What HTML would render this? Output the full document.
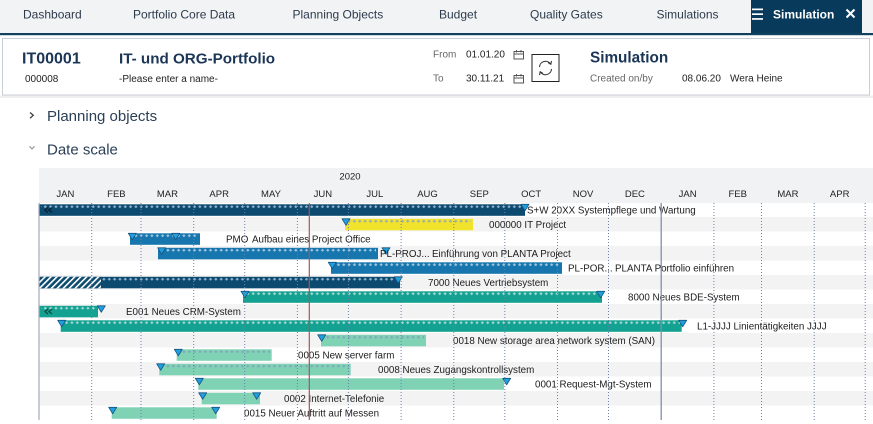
<!DOCTYPE html>
<html><head><meta charset="utf-8"><style>
html,body{margin:0;padding:0;background:#fff;}
body{width:873px;height:424px;overflow:hidden;position:relative;}
svg{position:absolute;left:0;top:0;}
</style></head><body>
<svg width="873" height="424" viewBox="0 0 873 424" font-family="'Liberation Sans', Arial, sans-serif">
<defs>
<pattern id="dN" patternUnits="userSpaceOnUse" x="0" y="202.5" width="5.33" height="14.5"><path d="M2.66,2.6 L4.3,4.2 L2.66,5.8 L1.02,4.2Z" fill="#8db2cf"/></pattern>
<pattern id="dB" patternUnits="userSpaceOnUse" x="0" y="202.5" width="5.33" height="14.5"><path d="M2.66,2.6 L4.3,4.2 L2.66,5.8 L1.02,4.2Z" fill="#9cc6e0"/></pattern>
<pattern id="dT" patternUnits="userSpaceOnUse" x="0" y="202.5" width="5.33" height="14.5"><path d="M2.66,2.6 L4.3,4.2 L2.66,5.8 L1.02,4.2Z" fill="#a3d6d2"/></pattern>
<pattern id="dY" patternUnits="userSpaceOnUse" x="0" y="202.5" width="5.33" height="14.5"><path d="M2.66,2.6 L4.3,4.2 L2.66,5.8 L1.02,4.2Z" fill="#9aabb0"/></pattern>
<pattern id="dG" patternUnits="userSpaceOnUse" x="0" y="202.5" width="5.33" height="14.5"><path d="M2.66,2.6 L4.3,4.2 L2.66,5.8 L1.02,4.2Z" fill="#7ea9b9"/></pattern>
<pattern id="hatch" patternUnits="userSpaceOnUse" width="4.2" height="4.2" patternTransform="rotate(45)"><rect width="4.2" height="4.2" fill="#0d4a6f"/><rect width="1.6" height="4.2" fill="#ffffff"/></pattern>
</defs>

<!-- NAV -->
<rect x="0" y="0" width="873" height="34" fill="#f1f3f5"/>
<rect x="751" y="0" width="111" height="34" fill="#083a5c"/>
<rect x="0" y="33" width="873" height="2.2" fill="#12405f"/>
<g font-size="12" fill="#2c3b4c">
<text x="23" y="18.5">Dashboard</text>
<text x="133" y="18.5">Portfolio Core Data</text>
<text x="292.5" y="18.5">Planning Objects</text>
<text x="439" y="18.5">Budget</text>
<text x="530" y="18.5">Quality Gates</text>
<text x="656.5" y="18.5">Simulations</text>
</g>
<g fill="#fff"><rect x="752" y="8.5" width="11" height="1.7"/><rect x="752" y="13.3" width="11" height="1.7"/><rect x="752" y="18.1" width="11" height="1.7"/></g>
<text x="773" y="18.5" font-size="12" font-weight="bold" fill="#fff">Simulation</text>
<path d="M846.5,9.5 L854.5,17.5 M854.5,9.5 L846.5,17.5" stroke="#fff" stroke-width="2"/>

<!-- HEADER BOX -->
<rect x="2.5" y="38.5" width="867" height="56.5" fill="#fff" stroke="#c9cdd4"/>
<rect x="0" y="95.5" width="873" height="2.5" fill="#eef0f2"/>
<text x="22" y="63.3" font-size="16" font-weight="bold" fill="#1b3556">IT00001</text>
<text x="25" y="82" font-size="10" fill="#222">000008</text>
<text x="119" y="63.3" font-size="15.2" font-weight="bold" fill="#1b3556">IT- und ORG-Portfolio</text>
<text x="119" y="82" font-size="10" fill="#222">-Please enter a name-</text>
<text x="433" y="57.4" font-size="10" fill="#666">From</text>
<text x="433" y="81.6" font-size="10" fill="#666">To</text>
<text x="466" y="57.4" font-size="10" fill="#222">01.01.20</text>
<text x="466" y="81.6" font-size="10" fill="#222">30.11.21</text>
<g fill="none" stroke="#555" stroke-width="1">
<rect x="514" y="51.5" width="9.5" height="7.5"/><path d="M514,54 H523.5 M516.5,50 V52.5 M521,50 V52.5"/>
<rect x="514" y="75.5" width="9.5" height="7.5"/><path d="M514,78 H523.5 M516.5,74 V76.5 M521,74 V76.5"/>
</g>
<rect x="532" y="54.5" width="27" height="27" fill="#fff" stroke="#222"/>
<g fill="none" stroke="#333" stroke-width="1.1">
<path d="M539.5,67 A6,6 0 0 1 550.5,64"/>
<path d="M551.5,69 A6,6 0 0 1 540.5,72"/>
<path d="M548,62.5 L550.8,64.2 L551.5,61"/>
<path d="M543,73.5 L540.2,71.8 L539.5,75"/>
</g>
<text x="590" y="62.7" font-size="15.3" font-weight="bold" fill="#1b3556">Simulation</text>
<text x="590" y="81.6" font-size="10" fill="#666">Created on/by</text>
<text x="682" y="81.6" font-size="10" fill="#222">08.06.20</text>
<text x="730" y="81.6" font-size="10" fill="#222">Wera Heine</text>

<!-- SECTIONS -->
<path d="M30,112.5 L33.3,115.3 L30,118.2" fill="none" stroke="#444" stroke-width="1.3"/>
<text x="47" y="121" font-size="15" fill="#2b4057">Planning objects</text>
<path d="M29.5,146.2 L32,149 L34.5,146.2" fill="none" stroke="#999" stroke-width="1.2"/>
<text x="47" y="154.3" font-size="15" fill="#2b4057">Date scale</text>

<!-- CHART HEADER -->
<rect x="39" y="168" width="834" height="35" fill="#f1f2f3"/>
<text x="350" y="179.5" font-size="9.5" fill="#222" text-anchor="middle">2020</text>
<g font-size="9.5" fill="#222" text-anchor="middle">
<text x="65.4" y="197">JAN</text><text x="116.4" y="197">FEB</text><text x="167.4" y="197">MAR</text><text x="219.2" y="197">APR</text>
<text x="271" y="197">MAY</text><text x="322.9" y="197">JUN</text><text x="374.8" y="197">JUL</text><text x="427.5" y="197">AUG</text>
<text x="479.3" y="197">SEP</text><text x="531.2" y="197">OCT</text><text x="583" y="197">NOV</text><text x="634.9" y="197">DEC</text>
<text x="687.6" y="197">JAN</text><text x="737.7" y="197">FEB</text><text x="787.9" y="197">MAR</text><text x="839.7" y="197">APR</text>
</g>

<!-- STRIPES -->
<g fill="#f3f3f3">
<rect x="39" y="217" width="834" height="14.5"/>
<rect x="39" y="246" width="834" height="14.5"/>
<rect x="39" y="275" width="834" height="14.5"/>
<rect x="39" y="304" width="834" height="14.5"/>
<rect x="39" y="333" width="834" height="14.5"/>
<rect x="39" y="362" width="834" height="14.5"/>
<rect x="39" y="391" width="834" height="14.5"/>
</g>

<!-- BARS -->
<rect x="39" y="204.3" width="486" height="11.5" fill="#0d4a6f"/>
<rect x="41" y="205" width="482" height="4.5" fill="url(#dN)"/>
<path d="M48,207.5 L45,210 L48,212.5 M52,207.5 L49,210 L52,212.5" fill="none" stroke="#062338" stroke-width="1.4"/>
<rect x="345" y="218.8" width="128" height="11.5" fill="#f1e22b"/>
<rect x="347" y="219.5" width="124" height="4.5" fill="url(#dY)"/>
<rect x="130" y="233.3" width="70" height="11.5" fill="#1776ad"/>
<rect x="132" y="234" width="66" height="4.5" fill="url(#dB)"/>
<rect x="158" y="247.8" width="220" height="11.5" fill="#1776ad"/>
<rect x="160" y="248.5" width="216" height="4.5" fill="url(#dB)"/>
<rect x="331" y="262.3" width="231" height="11.5" fill="#1776ad"/>
<rect x="333" y="263" width="227" height="4.5" fill="url(#dB)"/>
<rect x="39" y="276.8" width="361" height="11.5" fill="#0d4a6f"/>
<rect x="39" y="276.8" width="62" height="11.5" fill="url(#hatch)"/>
<rect x="101" y="277.5" width="297" height="4.5" fill="url(#dN)"/>
<rect x="243" y="291.3" width="359" height="11.5" fill="#13a291"/>
<rect x="245" y="292" width="355" height="4.5" fill="url(#dT)"/>
<rect x="39" y="305.8" width="59" height="11.5" fill="#13a291"/>
<rect x="41" y="306.5" width="55" height="4.5" fill="url(#dT)"/>
<path d="M48,309 L45,311.5 L48,314 M52,309 L49,311.5 L52,314" fill="none" stroke="#0a4f46" stroke-width="1.4"/>
<rect x="60.7" y="320.3" width="621" height="11.5" fill="#13a291"/>
<rect x="62" y="321" width="618" height="4.5" fill="url(#dT)"/>
<rect x="321" y="334.8" width="105" height="11.5" fill="#80d2b5"/>
<rect x="323" y="335.5" width="101" height="4.5" fill="url(#dG)"/>
<rect x="176.7" y="349.3" width="95" height="11.5" fill="#80d2b5"/>
<rect x="178" y="350" width="92" height="4.5" fill="url(#dG)"/>
<rect x="159.3" y="363.8" width="191.4" height="11.5" fill="#80d2b5"/>
<rect x="161" y="364.5" width="188" height="4.5" fill="url(#dG)"/>
<rect x="198.3" y="378.3" width="305.7" height="11.5" fill="#80d2b5"/>
<rect x="201.7" y="392.8" width="58.3" height="11.5" fill="#80d2b5"/>
<rect x="111.7" y="407.3" width="105" height="11.5" fill="#80d2b5"/>

<!-- TRIANGLES -->
<g fill="#1f9fe0" stroke="#15527c" stroke-width="0.8" stroke-linejoin="round">
<path d="M521,204.3 H529 L525,210.8Z"/>
<path d="M342,218.8 H350 L346,225.3Z"/>
<path d="M128.3,233.3 H136.3 L132.3,239.8Z"/>
<path d="M171.7,233.3 H179.7 L175.7,239.8Z"/>
<path d="M157.7,247.8 H165.7 L161.7,254.3Z"/>
<path d="M382,247.8 H390 L386,254.3Z"/>
<path d="M328.3,262.3 H336.3 L332.3,268.8Z"/>
<path d="M394.3,276.8 H402.3 L398.3,283.3Z"/>
<path d="M241,291.3 H249 L245,297.8Z"/>
<path d="M596.7,291.3 H604.7 L600.7,297.8Z"/>
<path d="M97.3,305.8 H105.3 L101.3,312.3Z"/>
<path d="M57.7,320.3 H65.7 L61.7,326.8Z"/>
<path d="M678.7,320.3 H686.7 L682.7,326.8Z"/>
<path d="M317.7,334.8 H325.7 L321.7,341.3Z"/>
<path d="M174.3,349.3 H182.3 L178.3,355.8Z"/>
<path d="M156.7,363.8 H164.7 L160.7,370.3Z"/>
<path d="M195.3,378.3 H203.3 L199.3,384.8Z"/>
<path d="M502.7,378.3 H510.7 L506.7,384.8Z"/>
<path d="M198.7,392.8 H206.7 L202.7,399.3Z"/>
<path d="M252.7,392.8 H260.7 L256.7,399.3Z"/>
<path d="M108.7,407.3 H116.7 L112.7,413.8Z"/>
<path d="M211.7,407.3 H219.7 L215.7,413.8Z"/>
</g>

<!-- LABELS -->
<g font-size="9.8" fill="#1c1c1c">
<text x="527" y="213.5">S+W 20XX Systempflege und Wartung</text>
<text x="489" y="228">000000 IT Project</text>
<text x="226" y="242.5">PMO</text><text x="252" y="242.5">Aufbau eines Project Office</text>
<text x="380" y="257">PL-PROJ...</text><text x="432" y="257">Einführung von PLANTA Project</text>
<text x="568" y="271.5">PL-POR...</text><text x="615" y="271.5">PLANTA Portfolio einführen</text>
<text x="428" y="286">7000 Neues Vertriebsystem</text>
<text x="628" y="300.5">8000 Neues BDE-System</text>
<text x="126" y="315">E001 Neues CRM-System</text>
<text x="697" y="329.5">L1-JJJJ Linientätigkeiten JJJJ</text>
<text x="453" y="344">0018 New storage area network system (SAN)</text>
<text x="298" y="358.5">0005 New server farm</text>
<text x="378" y="373">0008 Neues Zugangskontrollsystem</text>
<text x="535" y="387.5">0001 Request-Mgt-System</text>
<text x="284" y="402">0002 Internet-Telefonie</text>
<text x="244" y="416.5">0015 Neuer Auftritt auf Messen</text>
</g>

<!-- GRID -->
<g stroke="#6d80ad" stroke-width="1" stroke-dasharray="1,2">
<path d="M91.7,203 V420 M141,203 V420 M193.7,203 V420 M244.7,203 V420 M297.4,203 V420 M348.4,203 V420 M401.1,203 V420 M453.8,203 V420 M504.8,203 V420 M557.5,203 V420 M608.5,203 V420 M713.9,203 V420 M761.5,203 V420 M814.2,203 V420 M865.2,203 V420"/>
</g>
<path d="M661.2,203 V420" stroke="#7f8fab" stroke-width="1.3"/>
<path d="M39,203 V420" stroke="#a3abbb" stroke-width="1.2"/>
<path d="M309.3,203 V420" stroke="#a65656" stroke-width="1.2"/>
</svg>
</body></html>
